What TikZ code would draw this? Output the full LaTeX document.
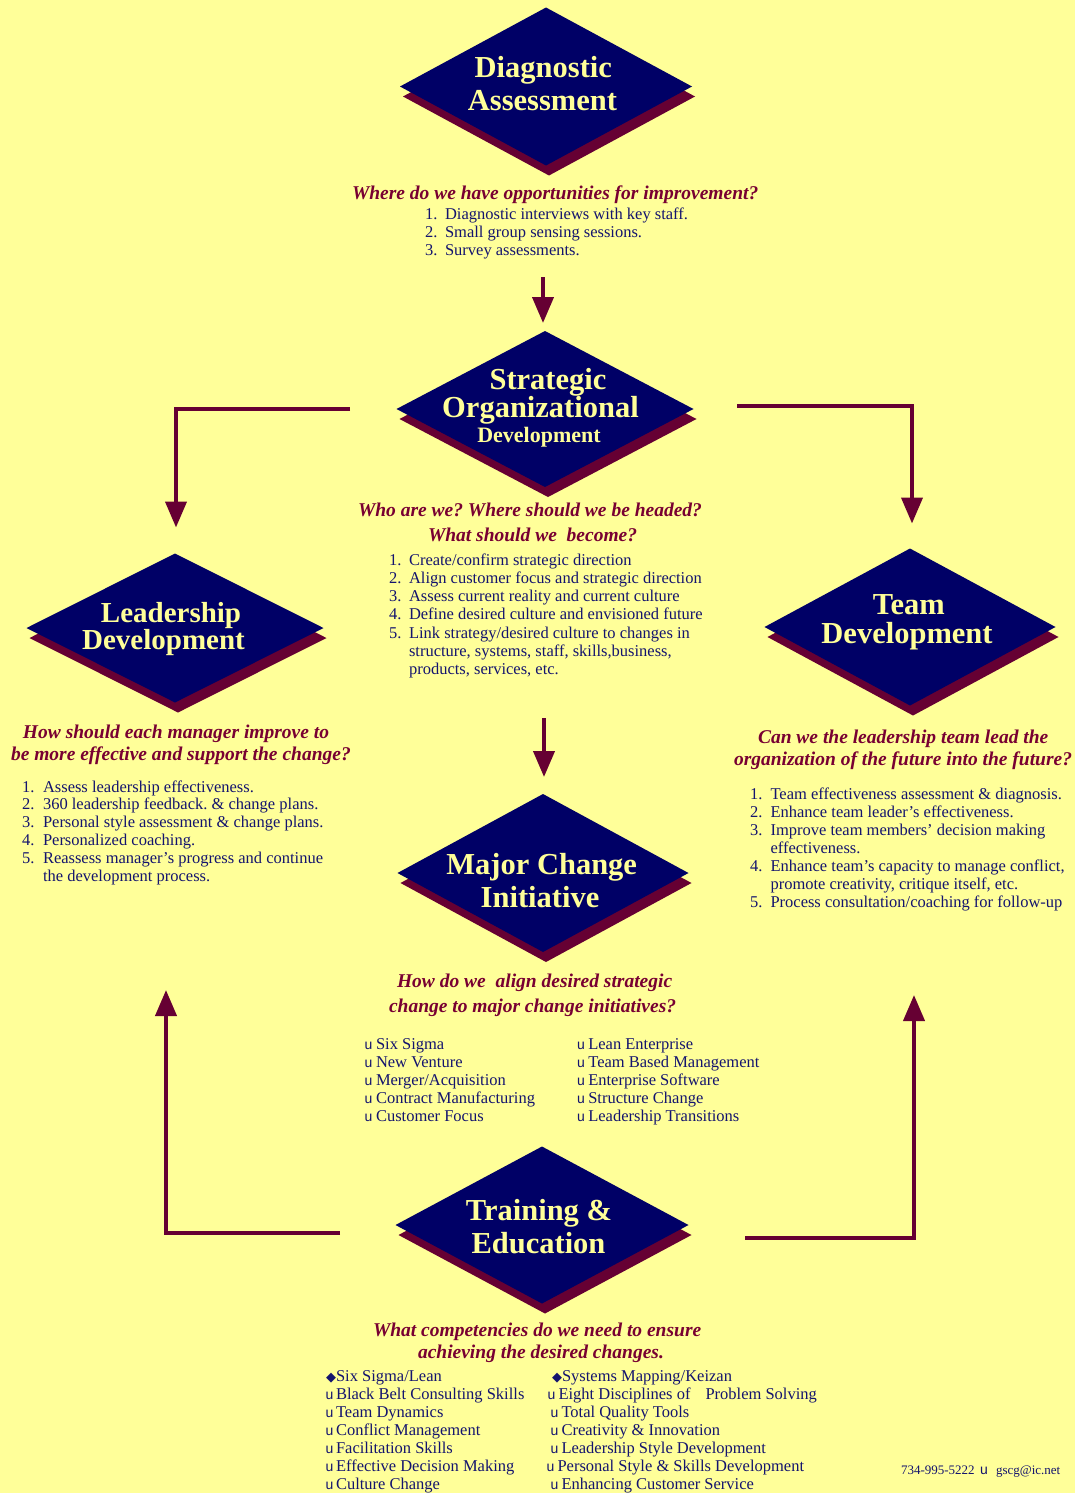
\documentclass[tikz,border=0pt]{standalone}
\usepackage{fontspec}
\setmainfont{Liberation Serif}
\newfontfamily\bulfont{Liberation Sans}
\newfontfamily\symfont{DejaVu Sans}
\usetikzlibrary{shapes.geometric,arrows.meta}
\definecolor{bgy}{RGB}{255,255,153}
\definecolor{navyd}{RGB}{0,0,102}
\definecolor{shad}{RGB}{102,0,51}
\definecolor{head}{RGB}{120,0,50}
\definecolor{txt}{RGB}{20,20,110}
\definecolor{ttl}{RGB}{255,255,153}
\frenchspacing
\begin{document}
\begin{tikzpicture}[x=1pt,y=-1pt,
  every node/.style={inner sep=0pt, outer sep=0pt},
  dia/.style={diamond, fill=navyd, inner sep=0pt},
  dsh/.style={diamond, fill=shad, inner sep=0pt},
  ttlA/.style={text=ttl, font=\fontsize{30.5}{33}\bfseries\selectfont, anchor=base},
  hd/.style={text=head, font=\fontsize{19.5}{22}\bfseries\itshape\selectfont, anchor=base west},
  body/.style={text=txt, font=\fontsize{16.5}{18}\selectfont, anchor=base west},
  bul/.style={text=txt, font=\bulfont\fontsize{14}{16}\selectfont, anchor=base west},
  sym/.style={text=txt, font=\symfont\fontsize{13}{15}\selectfont, anchor=base west},
  foot/.style={text=txt, font=\fontsize{13}{15}\selectfont, anchor=base west},
  conn/.style={draw=shad, line width=4pt, -{Triangle[width=21pt,length=26pt]}},
]
\fill[bgy] (0,0) rectangle (1075,1493);
\useasboundingbox (0,0) rectangle (1075,1493);

% ---------- Diamonds ----------
\node[dsh, minimum width=292pt, minimum height=158pt] (diagS) at (549,96.5) {};
\node[dia, minimum width=292pt, minimum height=158pt] (diag) at (546,86.5) {};
\node[dsh, minimum width=297pt, minimum height=156pt] (stratS) at (548,419) {};
\node[dia, minimum width=297pt, minimum height=156pt] (strat) at (545,409) {};
\node[dsh, minimum width=297pt, minimum height=149pt] (leadS) at (178,638) {};
\node[dia, minimum width=297pt, minimum height=149pt] (lead) at (175,628) {};
\node[dsh, minimum width=291pt, minimum height=157pt] (teamS) at (913,637) {};
\node[dia, minimum width=291pt, minimum height=157pt] (team) at (910,627) {};
\node[dsh, minimum width=291pt, minimum height=158pt] (majorS) at (546,883) {};
\node[dia, minimum width=291pt, minimum height=158pt] (major) at (543,873) {};
\node[dsh, minimum width=293pt, minimum height=157pt] (trainS) at (545,1235) {};
\node[dia, minimum width=293pt, minimum height=157pt] (train) at (542,1225) {};

% ---------- Diamond titles ----------
\node[ttlA] (t1a) at (543.3,77.5) {Diagnostic};
\node[ttlA] (t1b) at (542.5,110.5) {Assessment};
\node[ttlA] (t2a) at (548,389) {Strategic};
\node[ttlA] (t2b) at (540.5,417.5) {Organizational};
\node[ttlA, font=\fontsize{22}{24}\bfseries\selectfont] (t2c) at (539,442.5) {Development};
\node[ttlA, font=\fontsize{29}{32}\bfseries\selectfont] (t3a) at (171,622.5) {Leadership};
\node[ttlA, font=\fontsize{29}{32}\bfseries\selectfont] (t3b) at (163.5,649.5) {Development};
\node[ttlA] (t4a) at (908.8,614) {Team};
\node[ttlA] (t4b) at (907,643) {Development};
\node[ttlA] (t5a) at (541.7,874.5) {Major Change};
\node[ttlA] (t5b) at (540,907.5) {Initiative};
\node[ttlA] (t6a) at (539,1220) {Training \&};
\node[ttlA] (t6b) at (538.5,1253) {Education};

% ---------- Diagnostic text ----------
\node[hd] (q1) at (352,199) {Where do we have opportunities for improvement?};
\foreach \n/\t [count=\i from 0] in {1/Diagnostic interviews with key staff.,2/Small group sensing sessions.,3/Survey assessments.}{
  \node[body] (d\n n) at (425,219.5+17.9*\i) {\n.};
  \node[body] (d\n) at (445,219.5+17.9*\i) {\t};
}

% ---------- Strategic text ----------
\node[hd] (q2a) at (358,516.5) {Who are we? Where should we be headed?};
\node[hd] (q2b) at (428,541.5) {What should we\ \ become?};
\foreach \n/\y in {1/565,2/583.3,3/601.6,4/619.9,5/638.2}
  \node[body] (sn\n) at (389,\y) {\n.};
\foreach \t [count=\i from 0] in {Create/confirm strategic direction,Align customer focus and strategic direction,Assess current reality and current culture,Define desired culture and envisioned future,Link strategy/desired culture to changes in,{structure, systems, staff, skills,business,},{products, services, etc.}}
  \node[body] (s\i) at (409,565+18.3*\i) {\t};

% ---------- Leadership text ----------
\node[hd] (q3a) at (23,738.5) {How should each manager improve to};
\node[hd] (q3b) at (11,760.5) {be more effective and support the change?};
\foreach \n/\y in {1/792,2/809.8,3/827.6,4/845.4,5/863.2}
  \node[body] (ln\n) at (22,\y) {\n.};
\foreach \t [count=\i from 0] in {Assess leadership effectiveness.,360 leadership feedback. \& change plans.,Personal style assessment \& change plans.,Personalized coaching.,Reassess manager’s progress and continue,the development process.}
  \node[body] (l\i) at (43,792+17.8*\i) {\t};

% ---------- Team text ----------
\node[hd] (q4a) at (758,743) {Can we the leadership team lead the};
\node[hd] (q4b) at (734,765) {organization of the future into the future?};
\foreach \n/\y in {1/799,2/817,3/835,4/871,5/907}
  \node[body] (tn\n) at (750,\y) {\n.};
\foreach \t [count=\i from 0] in {Team effectiveness assessment \& diagnosis.,Enhance team leader’s effectiveness.,Improve team members’ decision making,effectiveness.,{Enhance team's capacity to manage conflict,},{promote creativity, critique itself, etc.},Process consultation/coaching for follow-up}
  \node[body] (tm\i) at (770.5,799+18*\i) {\t};

% ---------- Major change text ----------
\node[hd] (q5a) at (397,987) {How do we\ \ align desired strategic};
\node[hd] (q5b) at (389,1012) {change to major change initiatives?};
\foreach \t [count=\i from 0] in {Six Sigma,New Venture,Merger/Acquisition,Contract Manufacturing,Customer Focus}{
  \node[bul] (mlb\i) at (364.5,1049.3+18.1*\i) {u};
  \node[body] (ml\i) at (376,1049.3+18.1*\i) {\t};
}
\foreach \t [count=\i from 0] in {Lean Enterprise,Team Based Management,Enterprise Software,Structure Change,Leadership Transitions}{
  \node[bul] (mrb\i) at (577,1049.3+18.1*\i) {u};
  \node[body] (mr\i) at (588.3,1049.3+18.1*\i) {\t};
}

% ---------- Training text ----------
\node[hd] (q6a) at (373,1336) {What competencies do we need to ensure};
\node[hd] (q6b) at (418,1358) {achieving the desired changes.};
\node[sym] (tlb0) at (326,1381) {◆};
\node[body] (tl0) at (336,1381) {Six Sigma/Lean};
\foreach \t [count=\i] in {Black Belt Consulting Skills,Team Dynamics,Conflict Management,Facilitation Skills,Effective Decision Making,Culture Change}{
  \node[bul] (tlb\i) at (325.5,1381+18*\i) {u};
  \node[body] (tl\i) at (336,1381+18*\i) {\t};
}
\node[sym] (trb0) at (552,1381) {◆};
\node[body] (tr0) at (562,1381) {Systems Mapping/Keizan};
\foreach \t/\x [count=\i] in {Eight Disciplines of\hspace{15pt}Problem Solving/548,Total Quality Tools/551,Creativity \& Innovation/551,Leadership Style Development/551,Personal Style \& Skills Development/547,Enhancing Customer Service/551}{
  \node[bul] (trb\i) at (\x-0.5,1381+18*\i) {u};
  \node[body] (tr\i) at (\x+10.5,1381+18*\i) {\t};
}

% ---------- Footer ----------
\node[foot] (phone) at (901,1474.5) {734-995-5222};
\node[bul] (fsep) at (980,1474.5) {u};
\node[foot] (mail) at (996,1474.5) {gscg@ic.net};

% ---------- Connectors ----------
\coordinate (a1s) at (543,277);
\draw[conn] (a1s) -- ([yshift=8pt]strat.north -| a1s);
\coordinate (a2s) at (350,409);
\draw[conn] (a2s) -- (176,409) -- ([yshift=26pt]lead.north -| 176,0);
\coordinate (a3s) at (737,406);
\draw[conn] (a3s) -- (912,406) -- ([yshift=25pt]team.north -| 912,0);
\coordinate (a4s) at (544,718);
\draw[conn] (a4s) -- ([yshift=17pt]major.north -| a4s);
\coordinate (a5s) at (340,1233);
\coordinate (a5e) at (166,990);
\draw[conn] (a5s) -- (a5e |- a5s) -- (a5e);
\coordinate (a6s) at (745,1238);
\coordinate (a6e) at (914,995);
\draw[conn] (a6s) -- (a6e |- a6s) -- (a6e);
\end{tikzpicture}
\end{document}
